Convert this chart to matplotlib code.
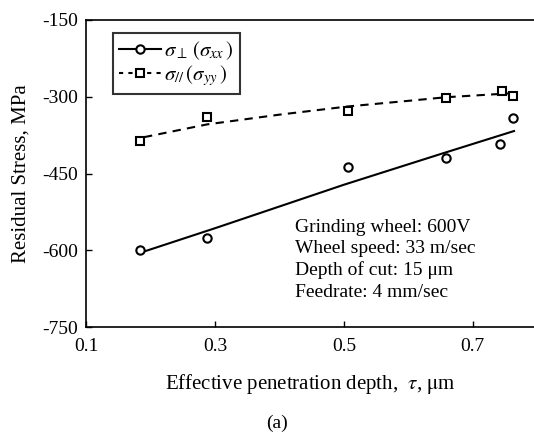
import matplotlib
matplotlib.use("Agg")
import matplotlib.pyplot as plt

# data points
x_perp = [0.183, 0.288, 0.506, 0.658, 0.742, 0.763]
y_perp = [-600, -577, -437, -419, -393, -342]
x_par = [0.184, 0.288, 0.506, 0.658, 0.745, 0.763]
y_par = [-386, -339, -328, -303, -289, -298]

# fitted trend lines
fit_perp_x = [0.184, 0.30, 0.50, 0.65, 0.764]
fit_perp_y = [-605, -557, -472, -412, -367]
fit_par_x = [0.19, 0.288, 0.40, 0.506, 0.60, 0.658, 0.762]
fit_par_y = [-379, -354, -335, -319, -308, -301, -293]

xticks = [0.1, 0.3, 0.5, 0.7]
yticks = [-150, -300, -450, -600, -750]

plt.rcParams['font.family'] = ['Liberation Serif', 'DejaVu Serif']
plt.rcParams['mathtext.fontset'] = 'stix'

fig = plt.figure(figsize=(5.34, 4.33), dpi=100)
ax = fig.add_axes([86/534, 1-327/433, 1-86/534, (327-20)/433])

ax.plot(fit_perp_x, fit_perp_y, color='black', lw=1.5, ls='-')
ax.plot(fit_par_x, fit_par_y, color='black', lw=1.5, ls=(0, (4, 3)))
ax.plot(x_perp, y_perp, ls='none', marker='o', ms=6, mfc='white', mec='black', mew=1.5)
ax.plot(x_par, y_par, ls='none', marker='s', ms=6, mfc='white', mec='black', mew=1.5)

# legend handles
h1, = ax.plot([], [], color='black', lw=1.5, ls='-', marker='o', ms=6, mfc='white', mec='black', mew=1.5)
h2, = ax.plot([], [], color='black', lw=1.5, ls=(0, (2, 2.5)), marker='s', ms=6, mfc='white', mec='black', mew=1.5)
leg = ax.legend([h1, h2], [r'$\sigma_\perp\,(\sigma_{xx}\,)$', r'$\sigma_{//}\,(\sigma_{yy}\,)$'],
                loc='upper left', bbox_to_anchor=(0.06, 0.957), frameon=True, fancybox=False,
                edgecolor='black', fontsize=15, handlelength=2.0, handletextpad=0.15,
                borderpad=0.3, labelspacing=0.05, borderaxespad=0)
leg.get_frame().set_linewidth(1.5)

ax.set_xlim(0.1, 0.795)
ax.set_ylim(-750, -150)
ax.set_xticks(xticks)
ax.set_xticklabels([f'{v:.1f}' for v in xticks])
ax.set_yticks(yticks)
ax.set_yticklabels([str(v) for v in yticks])
ax.tick_params(direction='in', length=4, width=1, labelsize=14, pad=6)
ax.tick_params(axis='x', pad=8)
ax.spines['right'].set_visible(False)
for s in ['left', 'top', 'bottom']:
    ax.spines[s].set_linewidth(1.2)

ax.set_ylabel('Residual Stress, MPa', fontsize=15, labelpad=8)
ax.set_xlabel(r'Effective penetration depth,  $\tau$, $\mathrm{\mu}$m', fontsize=15, labelpad=12)

ax.text(0.467, 0.352, 'Grinding wheel: 600V\nWheel speed: 33 m/sec\nDepth of cut: 15 \u03bcm\nFeedrate: 4 mm/sec',
        transform=ax.transAxes, fontsize=14, va='top', ha='left', linespacing=1.32)

fig.text(277/534, 1-423/433, '(a)', fontsize=14, ha='center', va='center')

fig.savefig('out.png', dpi=100)
